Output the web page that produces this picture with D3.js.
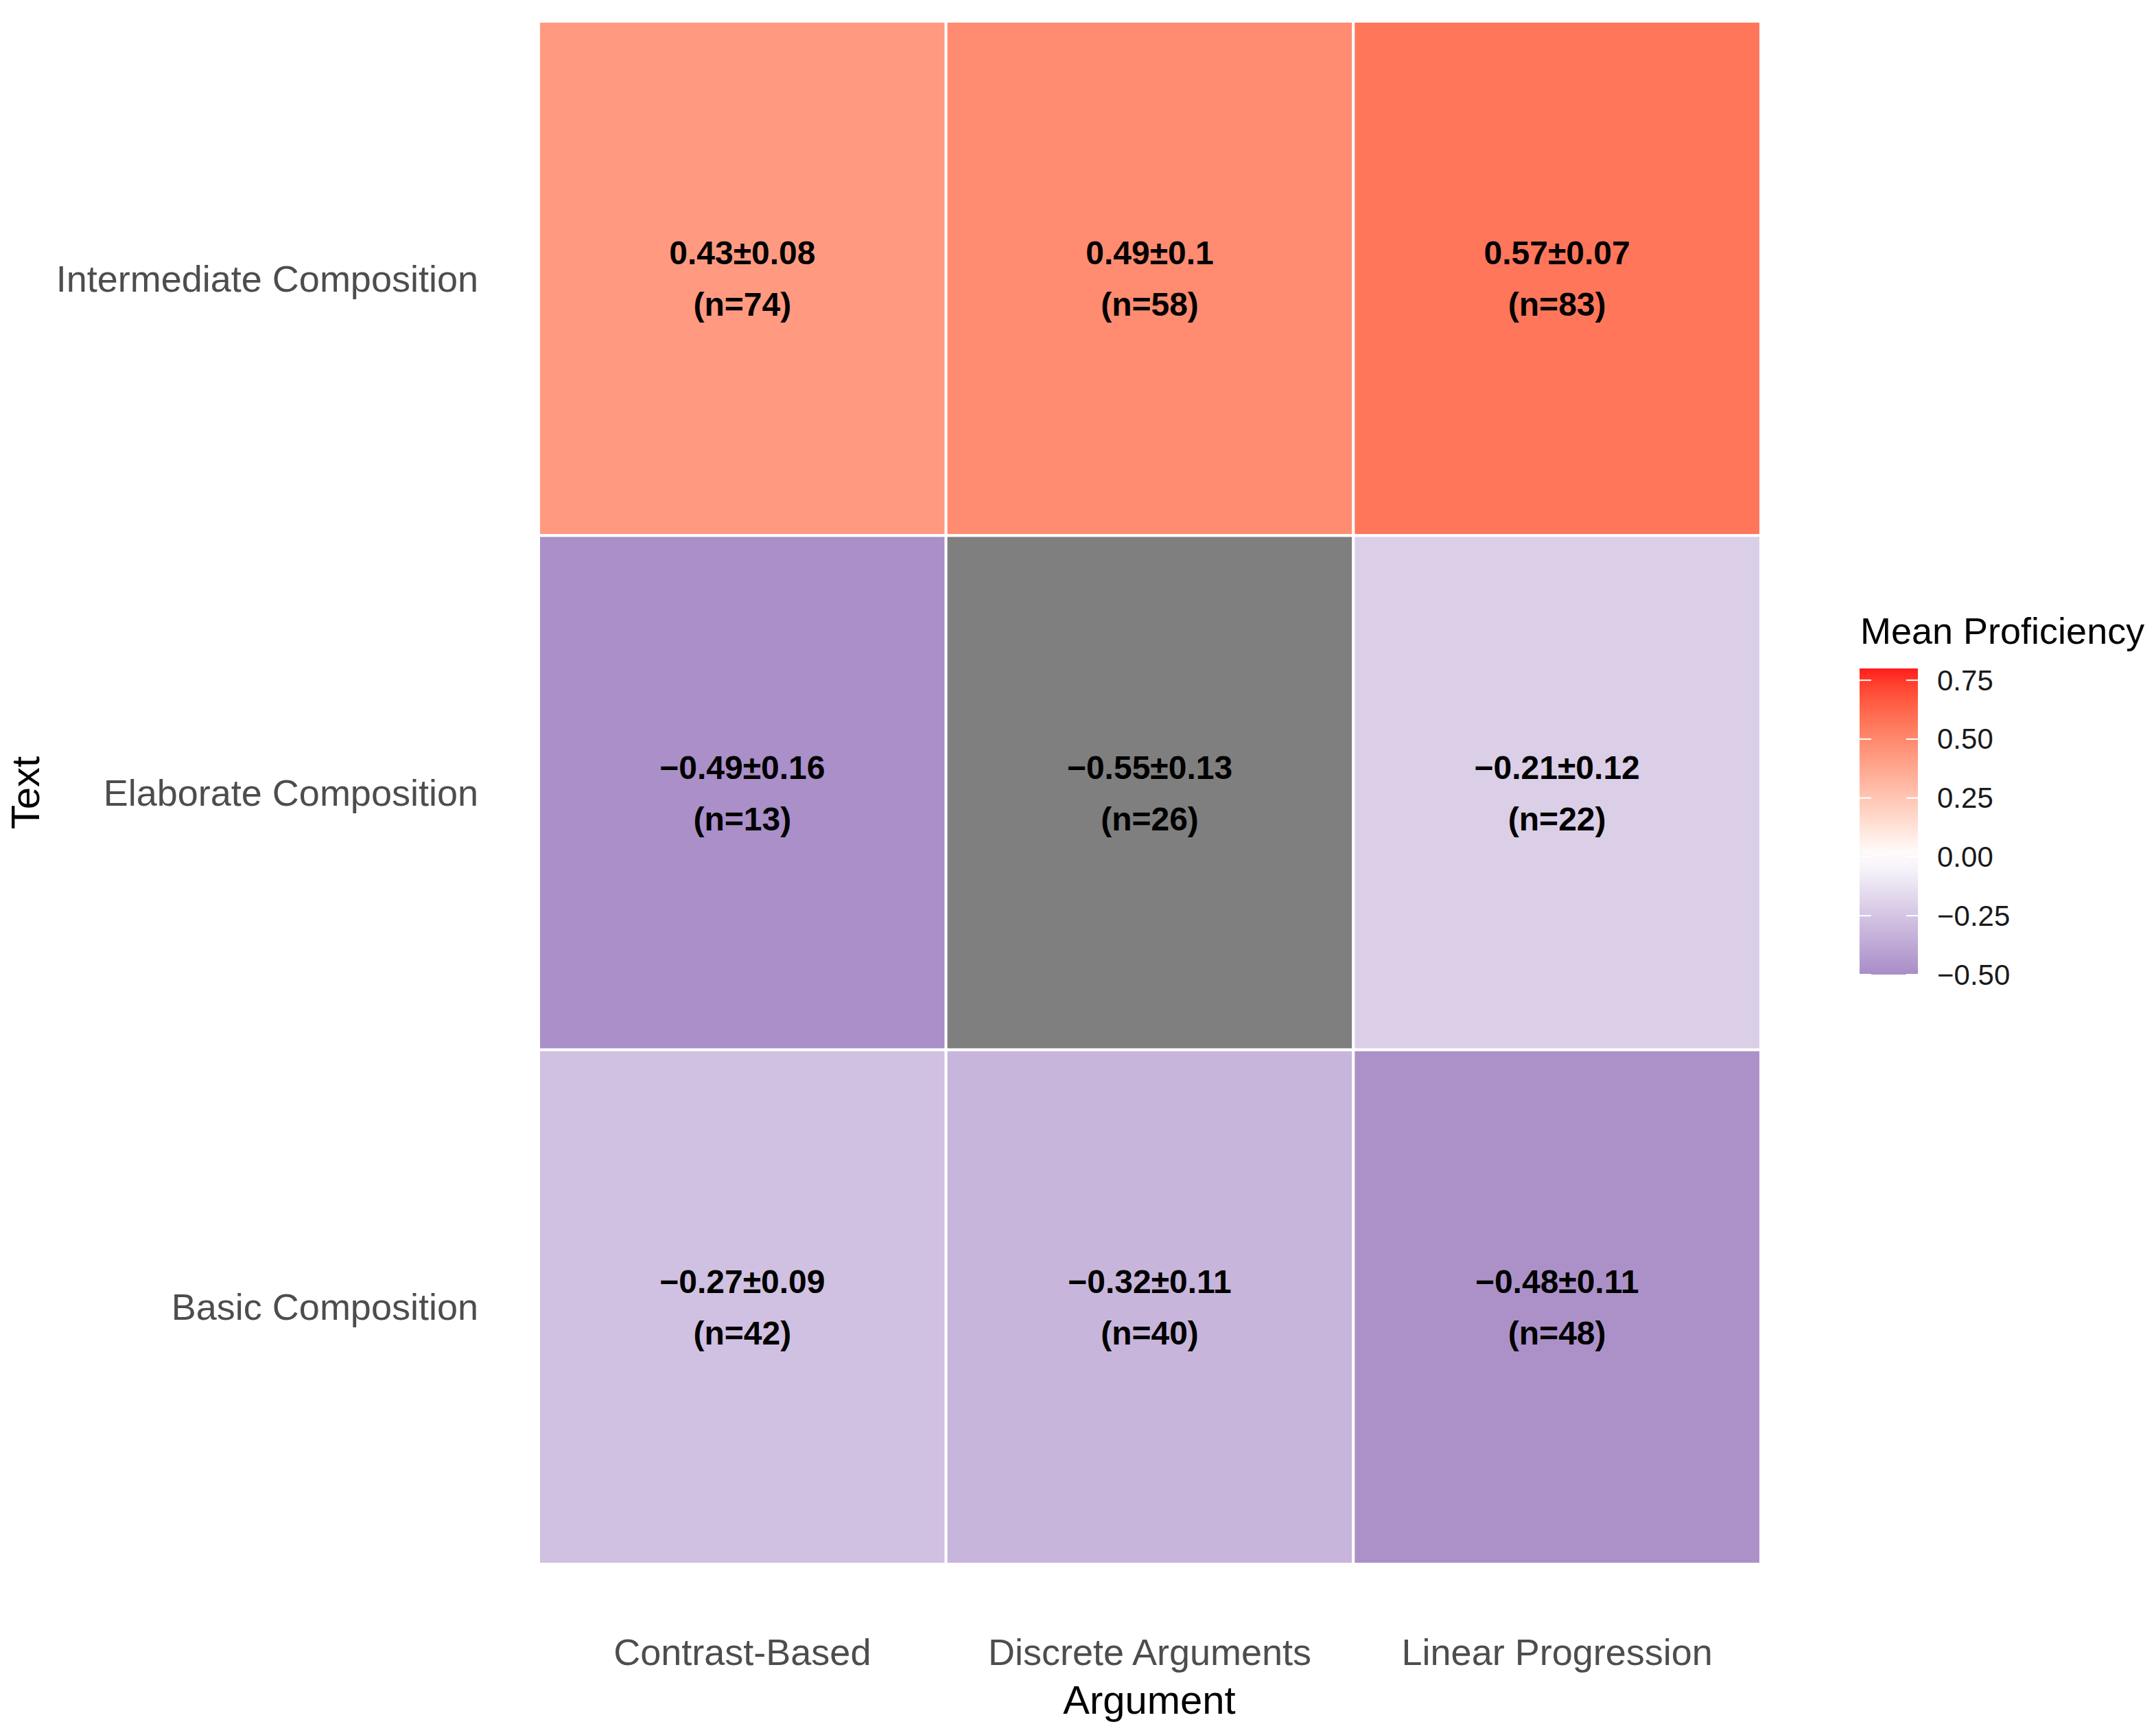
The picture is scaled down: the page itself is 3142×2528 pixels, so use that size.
<!DOCTYPE html>
<html>
<head>
<meta charset="utf-8">
<script src="https://cdn.jsdelivr.net/npm/d3@7"></script>
<style>
	html, body { margin: 0; padding: 0; background: #fff; }
	svg { display: block; font-family: "Liberation Sans", Arial, Helvetica, sans-serif; }
</style>
</head>
<body>
<svg id="chart"></svg>
<script>
const argumentTypes = ["Contrast-Based", "Discrete Arguments", "Linear Progression"];
const textTypes = ["Intermediate Composition", "Elaborate Composition", "Basic Composition"];

// one row per text type, columns follow argumentTypes
const meanValues = [
	[0.43, 0.49, 0.57],
	[-0.49, -0.55, -0.21],
	[-0.27, -0.32, -0.48]
];
const seValues = [
	[0.08, 0.1, 0.07],
	[0.16, 0.13, 0.12],
	[0.09, 0.11, 0.11]
];
const countValues = [
	[74, 58, 83],
	[13, 26, 22],
	[42, 40, 48]
];

const legendTicks = [-0.5, -0.25, 0, 0.25, 0.5, 0.75];
const fillLimits = [-0.5, 0.8];

(function () {
	const width = 3142,
		height = 2528;

	const svg = d3.select("#chart")
		.attr("width", width)
		.attr("height", height);

	const x = d3.scaleBand()
		.domain(argumentTypes)
		.range([785, 2566])
		.padding(0);

	const y = d3.scaleBand()
		.domain(textTypes)
		.range([31, 2279])
		.padding(0);

	// gradient2 style: white at 0, stretched by the largest limit
	const maxAbs = d3.max(fillLimits, d => Math.abs(d));
	const colour = d3.scaleLinear()
		.domain([-maxAbs, 0, maxAbs])
		.range(["#744da5", "#ffffff", "#ff1c1c"])
		.interpolate(d3.interpolateLab);

	function fillFor (v) {
		if (v < fillLimits[0] || v > fillLimits[1]) return "#7f7f7f";
		return colour(v);
	}

	function fmt (v) {
		return (v < 0 ? "\u2212" : "") + String(Math.abs(v));
	}

	let cells = [];
	textTypes.forEach(function (t, i) {
		argumentTypes.forEach(function (a, j) {
			cells.push({
				text: t,
				arg: a,
				mean: meanValues[i][j],
				se: seValues[i][j],
				n: countValues[i][j]
			});
		});
	});

	svg.append("g")
		.selectAll("rect")
		.data(cells)
		.join("rect")
			.attr("x", d => x(d.arg))
			.attr("y", d => y(d.text))
			.attr("width", x.bandwidth())
			.attr("height", y.bandwidth())
			.attr("fill", d => fillFor(d.mean))
			.attr("stroke", "#fff")
			.attr("stroke-width", 4);

	const labels = svg.append("g")
		.selectAll("text")
		.data(cells)
		.join("text")
			.attr("x", d => x(d.arg) + x.bandwidth() / 2)
			.attr("y", d => y(d.text) + y.bandwidth() / 2)
			.attr("text-anchor", "middle")
			.attr("font-size", 48)
			.attr("font-weight", "bold")
			.attr("fill", "#000");

	labels.append("tspan")
		.attr("x", d => x(d.arg) + x.bandwidth() / 2)
		.attr("dy", -37)
		.attr("dominant-baseline", "central")
		.text(d => fmt(d.mean) + "\u00b1" + fmt(d.se));

	labels.append("tspan")
		.attr("x", d => x(d.arg) + x.bandwidth() / 2)
		.attr("dy", 75)
		.attr("dominant-baseline", "central")
		.text(d => "(n=" + d.n + ")");

	// axes
	const xAxis = svg.append("g")
		.attr("transform", "translate(0," + 2279 + ")")
		.call(d3.axisBottom(x).tickSize(0));
	xAxis.select(".domain").remove();
	xAxis.selectAll("text")
		.attr("y", 128)
		.attr("dy", null)
		.attr("dominant-baseline", "central")
		.attr("font-size", 54)
		.attr("font-family", null)
		.attr("fill", "#4d4d4d");

	const yAxis = svg.append("g")
		.attr("transform", "translate(" + 785 + ",0)")
		.call(d3.axisLeft(y).tickSize(0));
	yAxis.select(".domain").remove();
	yAxis.selectAll("text")
		.attr("x", -88)
		.attr("dy", null)
		.attr("dominant-baseline", "central")
		.attr("font-size", 54)
		.attr("font-family", null)
		.attr("fill", "#4d4d4d");

	svg.append("text")
		.attr("x", 1675)
		.attr("y", 2476)
		.attr("text-anchor", "middle")
		.attr("dominant-baseline", "central")
		.attr("font-size", 58)
		.attr("fill", "#000")
		.text("Argument");

	svg.append("text")
		.attr("transform", "translate(36," + 1155 + ") rotate(-90)")
		.attr("text-anchor", "middle")
		.attr("dominant-baseline", "central")
		.attr("font-size", 58)
		.attr("fill", "#000")
		.text("Text");

	// colour bar legend
	const barX = 2710,
		barW = 85;
	const ly = d3.scaleLinear()
		.domain(fillLimits)
		.range([1420, 974]);

	const grad = svg.append("defs")
		.append("linearGradient")
			.attr("id", "barGrad")
			.attr("x1", 0).attr("y1", 1)
			.attr("x2", 0).attr("y2", 0);

	grad.selectAll("stop")
		.data(d3.range(0, 1.0001, 0.05))
		.join("stop")
			.attr("offset", d => d)
			.attr("stop-color", d => colour(fillLimits[0] + d * (fillLimits[1] - fillLimits[0])));

	const legend = svg.append("g");

	legend.append("text")
		.attr("x", 2711)
		.attr("y", 938)
		.attr("font-size", 54)
		.attr("fill", "#000")
		.text("Mean Proficiency");

	legend.append("rect")
		.attr("x", barX)
		.attr("y", ly(fillLimits[1]))
		.attr("width", barW)
		.attr("height", ly(fillLimits[0]) - ly(fillLimits[1]))
		.attr("fill", "url(#barGrad)");

	const tickLen = 17;
	legend.selectAll("line.left")
		.data(legendTicks)
		.join("line")
			.attr("class", "left")
			.attr("x1", barX).attr("x2", barX + tickLen)
			.attr("y1", d => ly(d)).attr("y2", d => ly(d))
			.attr("stroke", "#fff")
			.attr("stroke-width", 2);

	legend.selectAll("line.right")
		.data(legendTicks)
		.join("line")
			.attr("class", "right")
			.attr("x1", barX + barW - tickLen).attr("x2", barX + barW)
			.attr("y1", d => ly(d)).attr("y2", d => ly(d))
			.attr("stroke", "#fff")
			.attr("stroke-width", 2);

	legend.selectAll("text.tick")
		.data(legendTicks)
		.join("text")
			.attr("class", "tick")
			.attr("x", 2823)
			.attr("y", d => ly(d))
			.attr("dominant-baseline", "central")
			.attr("font-size", 42)
			.attr("fill", "#1a1a1a")
			.text(d => (d < 0 ? "\u2212" : "") + Math.abs(d).toFixed(2));
})();
</script>
</body>
</html>
